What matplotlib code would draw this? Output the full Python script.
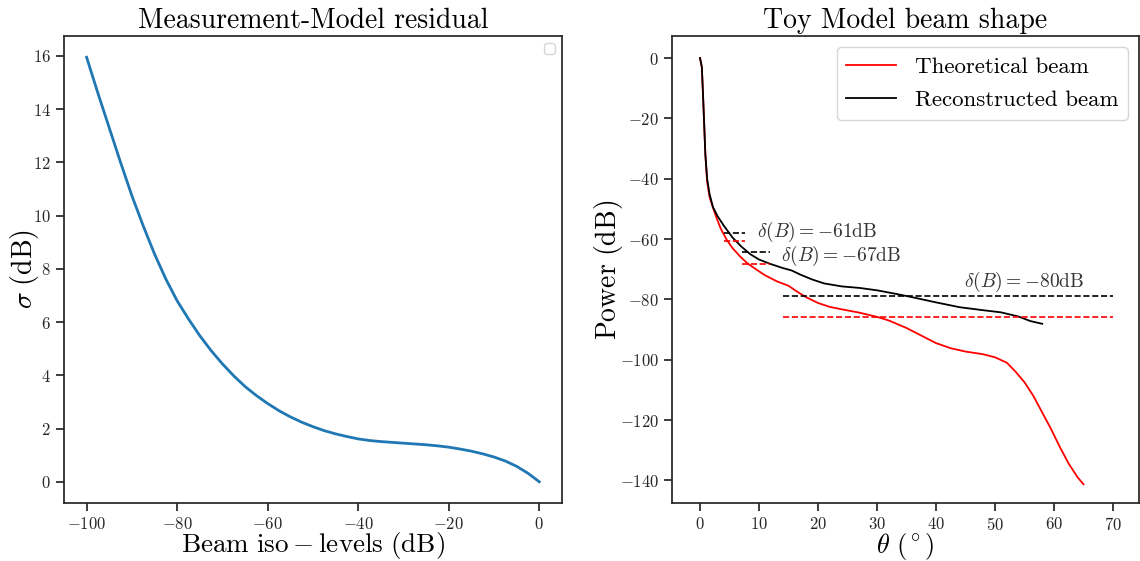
import matplotlib
matplotlib.use("Agg")
import matplotlib.pyplot as plt

# residual vs beam iso-level
iso_levels = [-100, -97.5, -95, -92.5, -90, -87.5, -85, -82.5, -80, -77.5, -75, -72.5, -70,
              -67.5, -65, -62.5, -60, -57.5, -55, -52.5, -50, -47.5, -45, -42.5, -40, -37.5,
              -35, -32.5, -30, -27.5, -25, -22.5, -20, -17.5, -15, -12.5, -10, -7.5, -5, -2.5, 0]
sigma_db = [15.95, 14.6, 13.3, 12.0, 10.75, 9.62, 8.56, 7.62, 6.8, 6.12, 5.49, 4.93, 4.43,
            3.98, 3.58, 3.24, 2.94, 2.67, 2.44, 2.24, 2.07, 1.92, 1.80, 1.70, 1.61, 1.55,
            1.51, 1.48, 1.45, 1.42, 1.39, 1.35, 1.30, 1.23, 1.15, 1.05, 0.93, 0.78, 0.58, 0.32, 0.0]

# toy beam profiles
theta_recon = [0, 0.3, 0.5, 0.7, 0.9, 1.2, 1.6, 2.2, 3.0, 4.0, 5.5, 7.0, 8.5, 10, 12, 14, 15.5,
               17, 19, 21, 24, 27, 30, 33, 36, 40, 44, 48, 51, 54, 56, 58]
power_recon = [0, -3, -12, -22, -32, -40, -45, -49.5, -52.5, -55.5, -59.5, -62.5, -65, -66.8,
               -68.3, -69.6, -70.4, -71.8, -73.4, -74.7, -75.7, -76.2, -77, -78.1, -79.3, -81,
               -82.6, -83.6, -84.3, -85.7, -87.2, -88.1]
theta_theory = [0, 0.3, 0.5, 0.7, 0.9, 1.2, 1.6, 2.0, 2.8, 3.5, 4.5, 5.5, 6.8, 8, 9.6, 11, 13, 15,
                16.5, 18, 20, 22, 24, 27, 30, 32, 35, 38, 40, 42.5, 45, 48, 50, 52, 53.5, 55,
                56.5, 58, 59.5, 61, 62.5, 64, 65]
power_theory = [0, -3, -12, -22, -32, -41, -46, -48.5, -53, -56.5, -60.2, -63, -65.8, -68, -70.2,
                -72, -74, -75.5, -77.5, -79.3, -81.2, -82.5, -83.3, -84.4, -85.8, -87, -89.5,
                -92.5, -94.5, -96.2, -97.3, -98.2, -99.2, -101, -104, -107.5, -112, -117.5,
                -123, -129, -134.5, -139, -141.3]

# dashed reference levels and their labels
dash_start = [4.0, 7.1, 14.1]
dash_stop = [7.6, 11.9, 70.0]
dash_recon = [-58.0, -64.3, -78.8]
dash_theory = [-60.8, -68.3, -85.7]
delta_labels = [r"$\delta(B) = -61\mathrm{dB}$", r"$\delta(B) = -67\mathrm{dB}$",
                r"$\delta(B) = -80\mathrm{dB}$"]
label_x = [9.6, 13.7, 44.7]
label_y = [-57.6, -65.5, -74.1]

plt.rcParams.update({
    "font.family": "serif",
    "font.serif": ["cmr10"],
    "mathtext.fontset": "cm",
    "axes.formatter.use_mathtext": True,
    "axes.edgecolor": ".15",
    "axes.linewidth": 1.25,
    "xtick.major.size": 6,
    "ytick.major.size": 6,
    "xtick.major.width": 1.25,
    "ytick.major.width": 1.25,
    "xtick.color": ".15",
    "ytick.color": ".15",
    "xtick.labelsize": 12,
    "ytick.labelsize": 12,
})

fig = plt.figure(figsize=(11.4, 5.61), dpi=100)
ax_res = fig.add_axes([0.0561, 0.1034, 0.4368, 0.8324])
ax_beam = fig.add_axes([0.5895, 0.1034, 0.4096, 0.8324])

ax_res.plot(iso_levels, sigma_db, color="#1f77b4", linewidth=2)
ax_res.set_title("Measurement-Model residual", fontsize=20)
ax_res.set_xlabel(r"$\mathrm{Beam\ iso-levels\ (dB)}$", fontsize=19.5, labelpad=-1.5)
ax_res.set_ylabel(r"$\sigma\ \mathrm{(dB)}$", fontsize=20, labelpad=-6)
ax_res.set_xticks([-100, -80, -60, -40, -20, 0])
ax_res.set_yticks([0, 2, 4, 6, 8, 10, 12, 14, 16])
ax_res.legend(handles=[], loc="upper right")

ax_beam.plot(theta_theory, power_theory, color="red", linewidth=1.3, label="Theoretical beam")
ax_beam.plot(theta_recon, power_recon, color="black", linewidth=1.3, label="Reconstructed beam")
ax_beam.hlines(dash_recon, dash_start, dash_stop, colors="black", linestyles="dashed", linewidth=1.2)
ax_beam.hlines(dash_theory, dash_start, dash_stop, colors="red", linestyles="dashed", linewidth=1.2)
for txt, tx, ty in zip(delta_labels, label_x, label_y):
    ax_beam.text(tx, ty, txt, fontsize=14, va="center", ha="left", color=".2")
ax_beam.set_title("Toy Model beam shape", fontsize=20)
ax_beam.set_xlabel(r"$\theta\ (^\circ)$", fontsize=19, labelpad=-1.5)
ax_beam.set_ylabel(r"$\mathrm{Power\ (dB)}$", fontsize=20, labelpad=-4)
ax_beam.set_xticks([0, 10, 20, 30, 40, 50, 60, 70])
ax_beam.set_yticks([0, -20, -40, -60, -80, -100, -120, -140])
ax_beam.set_xlim(-4.75, 74.4)
ax_beam.set_ylim(-147.5, 7.3)
ax_beam.legend(loc="upper right", fontsize=16.5, labelspacing=0.6, handlelength=2.2,
               borderaxespad=0.5)

fig.savefig("out.png")
